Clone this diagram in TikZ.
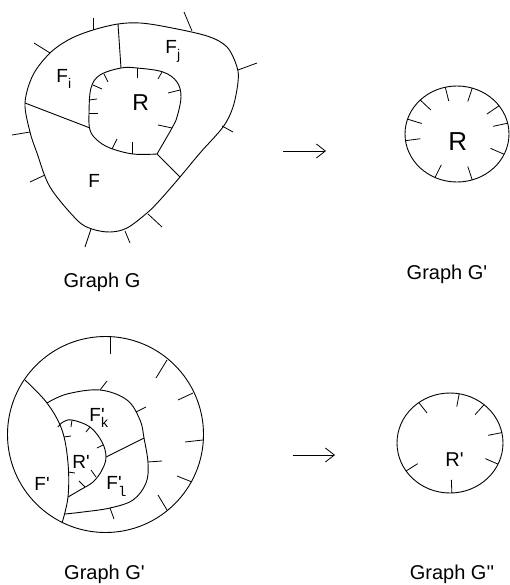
\documentclass[tikz,border=0pt]{standalone}
\usepackage{fontspec}
\setmainfont{Liberation Sans}[Ligatures=TeXOff]
\newfontfamily\monofnt{Liberation Mono}
\usetikzlibrary{arrows.meta}
\newcommand\subtxt[2][-6pt]{\raisebox{#1}{\fontsize{14}{14}\selectfont #2}}
\begin{document}
\begin{tikzpicture}[x=1pt,y=-1pt,line width=0.9pt,line join=round,
  lbl/.style={inner sep=0pt,anchor=base west,font=\fontsize{19}{19}\selectfont},
  biglbl/.style={lbl,font=\fontsize{23}{23}\selectfont},
  gcaption/.style={inner sep=0pt,anchor=base,font=\fontsize{20}{20}\selectfont},
  tickline/.style={line width=0.8pt},
  arr/.style={-{Straight Barb[length=9pt,width=14pt]},line width=0.8pt}]
\useasboundingbox (0,0) rectangle (510,585);

% ---------- Graph G (top left) ----------
\draw plot[smooth cycle,tension=0.55] coordinates {(25,103) (33,75) (50,53) (70,39) (93,30) (118,24) (140,23) (167,27) (207,36) (227,47) (237,67) (238,82) (233,107) (223,127) (200,153) (180,177) (160,200) (147,213) (127,228) (110,232) (92,229) (77,220) (50,187) (37,153) (30,132)};
\draw plot[smooth,tension=0.6] coordinates {(157,154) (172,128) (177,117) (181,97) (177,82) (163,72) (137,68) (121,68) (100,75) (91,88) (89,113) (90,130) (97,140) (110,148) (133,154) (157,154)};
\draw (118,24) -- (121,68);
\draw (25,103) -- (90,128);
\draw (157,154) -- (180,177);
\foreach \xa/\ya/\xb/\yb in {93/30/93/18, 50/53/34/43, 192/31/184/12, 238/70/257/63, 222/126/233/132, 30/132/12/135, 45/175/30/182, 148/214/162/227, 125/231/130/243, 91/229/85/247}
  \draw[tickline] (\xa,\ya) -- (\xb,\yb);
\foreach \xa/\ya/\xb/\yb in {137/68/137/78, 162/72/158/79, 180/90/168/93, 172/128/158/125, 132/154/132/142, 112/149/117/139, 89/113/98/113, 89/100/97/99, 93/85/102/89, 104/74/108/82}
  \draw[tickline] (\xa,\ya) -- (\xb,\yb);
\node[lbl] (Fi) at (56,83) {F\subtxt{i}};
\node[lbl] (Fj) at (165,54) {F\subtxt{j}};
\node[biglbl] (R1) at (132,111) {R};
\node[lbl] (F1) at (88,188) {F};
\node[gcaption] (capG) at (102,287) {Graph G};

% ---------- arrow 1 ----------
\coordinate (a1s) at (283,151);
\coordinate (a1e) at (326,151);
\draw[arr] (a1s) -- (a1e);

% ---------- Graph G' (top right) ----------
\draw (457,134) ellipse[x radius=52,y radius=48];
\foreach \a in {188,162,135,103,73,36,13,-25,-73,-115}
  \draw[tickline] (457,134) ++({52*cos(\a)},{-48*sin(\a)}) -- ++({-15*cos(\a)},{14*sin(\a)});
\node[lbl,font=\fontsize{26}{26}\selectfont] (R2) at (448,151) {R};
\node[gcaption] (capG1) at (447,279) {Graph G'};

% ---------- Graph G' (bottom left) ----------
\draw (105.5,434.5) circle[radius=98];
\draw plot[smooth,tension=0.6] coordinates {(25,380) (47,403) (62,430) (68,463) (68,497) (62,523)};
\draw plot[smooth,tension=0.6] coordinates {(47,403) (67,394) (100,390) (127,400) (140,420) (144,438) (148,463) (146,483) (133,500) (110,508) (83,512) (65,514)};
\draw plot[smooth,tension=0.6] coordinates {(58,427) (63,422) (72,420) (90,427) (102,442) (106,457) (102,470) (93,482) (80,490) (68,497)};
\draw (106,457) -- (144,438);
\foreach \xa/\ya/\xb/\yb in {110/337/110/354, 167/360/156/378, 193/393/178/400, 203/440/185/442, 192/482/177/476, 167/510/158/495}
  \draw[tickline] (\xa,\ya) -- (\xb,\yb);
\foreach \xa/\ya/\xb/\yb in {100/390/107/381, 136/412/146/407, 148/462/162/461, 110/508/114/519}
  \draw[tickline] (\xa,\ya) -- (\xb,\yb);
\foreach \xa/\ya/\xb/\yb in {72/420/71/427, 90/427/86/432, 103/445/97/448, 64/437/71/436, 68/472/75/473, 96/477/91/470, 85/487/79/481}
  \draw[tickline] (\xa,\ya) -- (\xb,\yb);
\node[lbl] (Fp) at (34,490) {F'};
\node[lbl] (Rp) at (72,468) {R'};
\node[lbl] (Fk) at (89,421) {F\makebox[0pt][l]{'}\subtxt{k}};
\node[lbl] (Fl) at (106,489) {F\makebox[0pt][l]{'}\subtxt[-7pt]{\monofnt l}};
\node[gcaption] (capG2) at (104.5,579) {Graph G'};

% ---------- arrow 2 ----------
\coordinate (a2s) at (293,455);
\coordinate (a2e) at (335,455);
\draw[arr] (a2s) -- (a2e);

% ---------- Graph G'' (bottom right) ----------
\draw (450,443) ellipse[x radius=53,y radius=50];
\foreach \a in {126,80,50,12,-25,-88,-146}
  \draw[tickline] (450,443) ++({53*cos(\a)},{-50*sin(\a)}) -- ++({-14*cos(\a)},{13*sin(\a)});
\node[lbl,font=\fontsize{20}{20}\selectfont] (R3) at (445,466) {R'};
\node[gcaption] (capG3) at (452,579) {Graph G''};
\end{tikzpicture}
\end{document}
